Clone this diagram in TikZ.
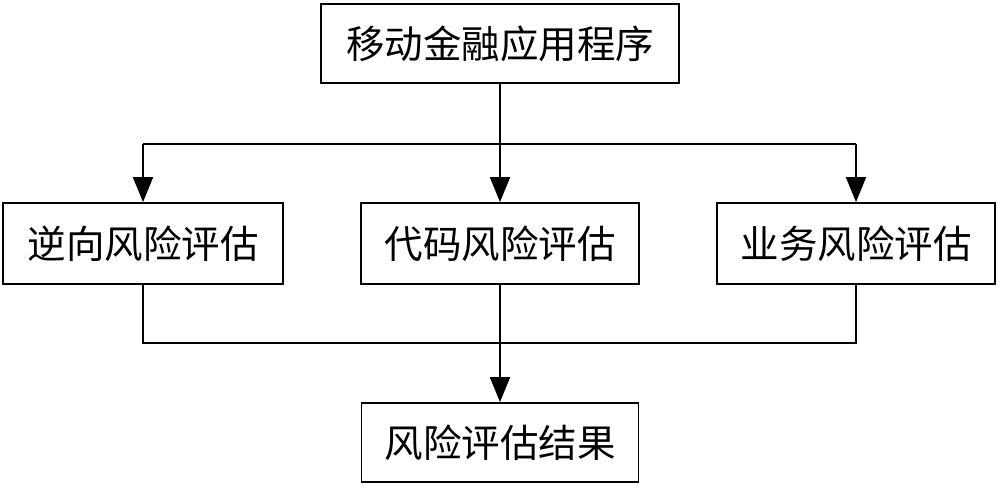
\documentclass[tikz,border=0pt]{standalone}
\usepackage{fontspec}
\newfontfamily\cjk{Noto Sans CJK SC}
\usetikzlibrary{arrows.meta}
\begin{document}
\begin{tikzpicture}[x=1pt,y=-1pt,
  box/.style={draw=black,line width=1.8pt,fill=white,rectangle,inner sep=0pt,
    font=\cjk\fontsize{38.5}{42}\selectfont,text=black},
  conn/.style={draw=black,line width=1.8pt},
  arr/.style={conn,-{Triangle[length=25pt,width=20pt]}}]
\useasboundingbox[fill=white] (0,0) rectangle (1000,487);
\node[box,minimum width=358pt,minimum height=79pt] (top) at (500,43.5) {移动金融应用程序};
\node[box,minimum width=280pt,minimum height=81pt] (rev) at (143,243.5) {逆向风险评估};
\node[box,minimum width=278pt,minimum height=81pt] (code) at (500,243.5) {代码风险评估};
\node[box,minimum width=278pt,minimum height=81pt] (biz) at (856,243.5) {业务风险评估};
\node[box,minimum width=277pt,minimum height=79pt] (res) at (500,442.5) {风险评估结果};
\coordinate (j1) at (500,144);
\coordinate (j2) at (500,343);
\draw[conn] (top.south) -- (j1);
\draw[conn] (rev.north |- j1) -- (biz.north |- j1);
\draw[arr] (rev.north |- j1) -- (rev.north);
\draw[arr] (j1) -- (code.north);
\draw[arr] (biz.north |- j1) -- (biz.north);
\draw[conn] (rev.south) -- (rev.south |- j2) -- (biz.south |- j2) -- (biz.south);
\draw[conn] (code.south) -- (j2);
\draw[arr] (j2) -- (res.north);
\end{tikzpicture}
\end{document}
